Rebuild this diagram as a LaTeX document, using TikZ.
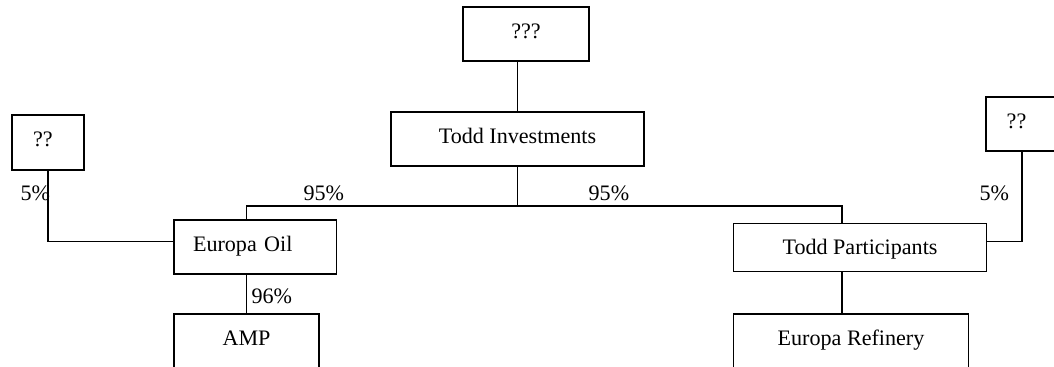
\documentclass[tikz,border=0pt]{standalone}
\usepackage{fontspec}
\setmainfont{Liberation Serif}
\usetikzlibrary{positioning}
\newcommand\un{0.543pt}

\begin{document}
\begin{tikzpicture}[
x=0.543pt, y=-0.543pt,
firm/.style={
	draw, rectangle, line width=0.7pt,
	inner sep=0pt, text=black,
	text height=8pt, text depth=3.5pt,
	font=\fontsize{12}{14}\selectfont
},
padl/.style={align=left, inner xsep=#1*\un},
pct/.style={inner sep=0pt, anchor=base west, font=\fontsize{12}{14}\selectfont},
line width=0.7pt
]
\useasboundingbox (0,0) rectangle (1054,366);
\clip (0,0) rectangle (1054,366);
% boxes
\node[firm, minimum width=126*\un, minimum height=54*\un] (top) at (526,34) {???};
\node[firm, minimum width=253*\un, minimum height=54*\un] (invest) at (517.5,139) {Todd Investments};
\node[firm, minimum width=72*\un, minimum height=55*\un, padl=21, text width=30*\un] (lq) at (48,142.5) {??};
\node[firm, minimum width=162.5*\un, minimum height=54*\un, padl=19, text width=124.5*\un] (oil) at (255.25,247) {Europa Oil};
\node[firm, minimum width=145*\un, minimum height=54*\un] (amp) at (246.5,341) {AMP};
\node[firm, minimum width=253*\un, minimum height=48*\un, text depth=0pt] (part) at (860,247.5) {Todd Participants};
\node[firm, minimum width=235*\un, minimum height=54*\un] (refin) at (851,341) {Europa Refinery};
\node[firm, minimum width=72*\un, minimum height=54*\un, padl=20.7, text width=30.6*\un] (rq) at (1022,124) {??};
% share lines
\coordinate (bl) at (246.5,206);
\coordinate (br) at (842,206);
\draw (top.south -| invest.north) -- (invest.north);
\draw (invest.south) -- (invest.south |- bl);
\draw (bl |- oil.north) -- (bl) -- (br) -- (br |- part.north);
\draw (amp.north |- oil.south) -- (amp.north);
\draw (br |- part.south) -- (br |- refin.north);
\draw (lq.south) |- ([yshift=2.9pt]oil.west);
\draw (rq.south) |- ([yshift=3.15pt]part.east);
% percentages
\node[pct] (p1) at (20,200) {5\%};
\node[pct] (p2) at (303,200) {95\%};
\node[pct] (p3) at (588,200) {95\%};
\node[pct] (p4) at (979,200) {5\%};
\node[pct] (p5) at (251,303) {96\%};
\end{tikzpicture}
\end{document}
